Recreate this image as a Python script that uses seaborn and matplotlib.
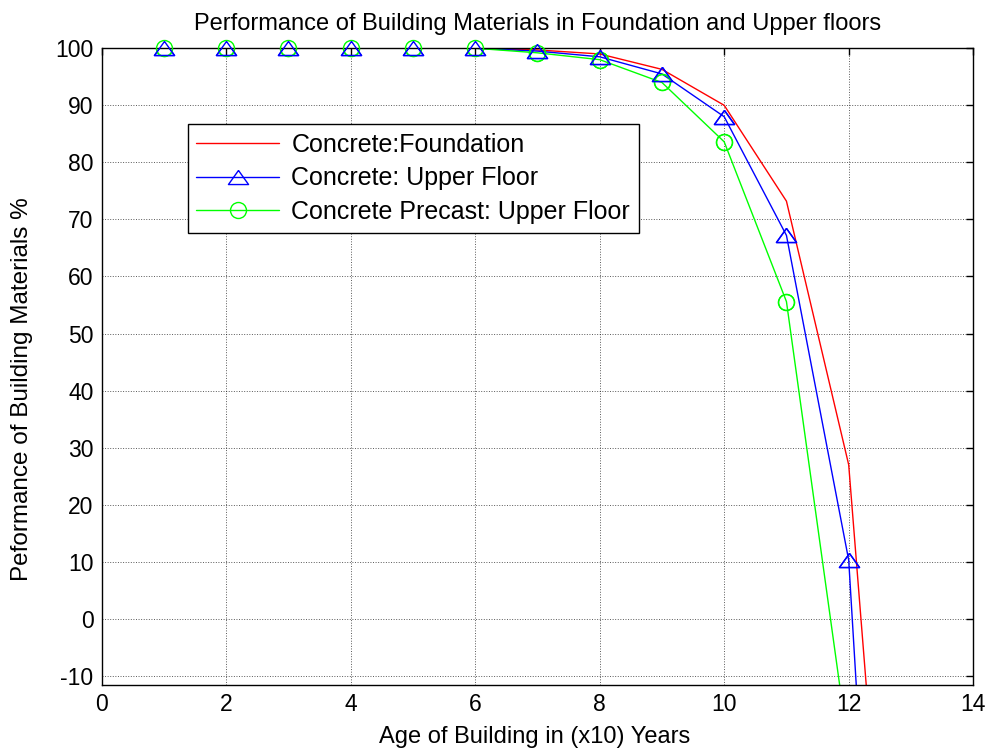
import matplotlib
matplotlib.use("Agg")
import matplotlib.pyplot as plt
import seaborn as sns
import pandas as pd

# values (x in tens of years)
age = [1, 2, 3, 4, 5, 6, 7, 8, 9, 10, 11, 12, 13]
foundation = [100, 100, 100, 100, 100, 100, 99.7, 99.0, 96.3, 90.0, 73.2, 27.0, -110]
upper_floor = [100, 100, 100, 100, 100, 100, 99.5, 98.5, 95.5, 88.0, 67.2, 10.3, -170]
precast = [100, 100, 100, 100, 100, 100, 99.2, 98.0, 94.0, 83.6, 55.6, -23, -150]

labels = ["Concrete:Foundation", "Concrete: Upper Floor", "Concrete Precast: Upper Floor"]

df = pd.DataFrame({"age": age, "found": foundation, "upper": upper_floor, "pre": precast})

sns.set_style("white")
plt.rcParams["font.family"] = ["Liberation Sans", "DejaVu Sans"]
plt.rcParams["axes.unicode_minus"] = False
plt.rcParams["text.color"] = "black"
plt.rcParams["axes.labelcolor"] = "black"
plt.rcParams["xtick.color"] = "black"
plt.rcParams["ytick.color"] = "black"

# flat matlab-like triangle
tri = [(0, 0.7), (-1, -0.7), (1, -0.7), (0, 0.7)]
green = "#00ff00"

fig, ax = plt.subplots(figsize=(9.88, 7.54), dpi=100)
fig.subplots_adjust(left=0.103, right=0.985, top=0.936, bottom=0.0915)

YMIN, YMAX = -11.6, 100

sns.lineplot(data=df, x="age", y="found", ax=ax, color="red", lw=1, label=labels[0])
sns.lineplot(data=df, x="age", y="upper", ax=ax, color="blue", lw=1, marker=tri,
             markersize=14.5, markerfacecolor="none", markeredgecolor="blue",
             markeredgewidth=1, label=labels[1])
sns.lineplot(data=df, x="age", y="pre", ax=ax, color=green, lw=1, marker="o",
             markersize=11.5, markerfacecolor="none", markeredgecolor=green,
             markeredgewidth=1, label=labels[2])

# markers are not clipped at the frame (matlab style)
inside = df[(df["pre"] >= YMIN) & (df["pre"] <= YMAX)]
ax.plot(inside["age"], inside["pre"], ls="none", marker="o", ms=11.5, mfc="none",
        mec=green, mew=1, clip_on=False, zorder=5)
inside = df[(df["upper"] >= YMIN) & (df["upper"] <= YMAX)]
ax.plot(inside["age"], inside["upper"], ls="none", marker=tri, ms=14.5, mfc="none",
        mec="blue", mew=1, clip_on=False, zorder=6)

ax.set_xlim(0, 14)
ax.set_ylim(YMIN, YMAX)
ax.set_xticks(range(0, 15, 2))
ax.set_yticks(range(-10, 101, 10))
ax.grid(True, color="black", linestyle=":", linewidth=0.7, alpha=0.65)
ax.tick_params(direction="in", top=True, right=True, labelsize=16.5, length=5, width=1, pad=6)
for s in ax.spines.values():
    s.set_color("black")
    s.set_linewidth(1)

ax.set_title("Performance of Building Materials in Foundation and Upper floors", fontsize=17, pad=13)
ax.set_xlabel("Age of Building in (x10) Years", fontsize=17)
ax.set_ylabel("Peformance of Building Materials %", fontsize=17.5)
ax.xaxis.set_label_coords(0.497, -0.064)
ax.yaxis.set_label_coords(-0.079, 0.465)

leg = ax.legend(loc="upper left", bbox_to_anchor=(0.0985, 0.881), fontsize=18,
                frameon=True, fancybox=False, framealpha=1, edgecolor="black",
                handlelength=3.3, borderpad=0.35, labelspacing=0.38, handletextpad=0.5,
                borderaxespad=0)
leg.get_frame().set_linewidth(1)

fig.savefig("out.png", dpi=100)
